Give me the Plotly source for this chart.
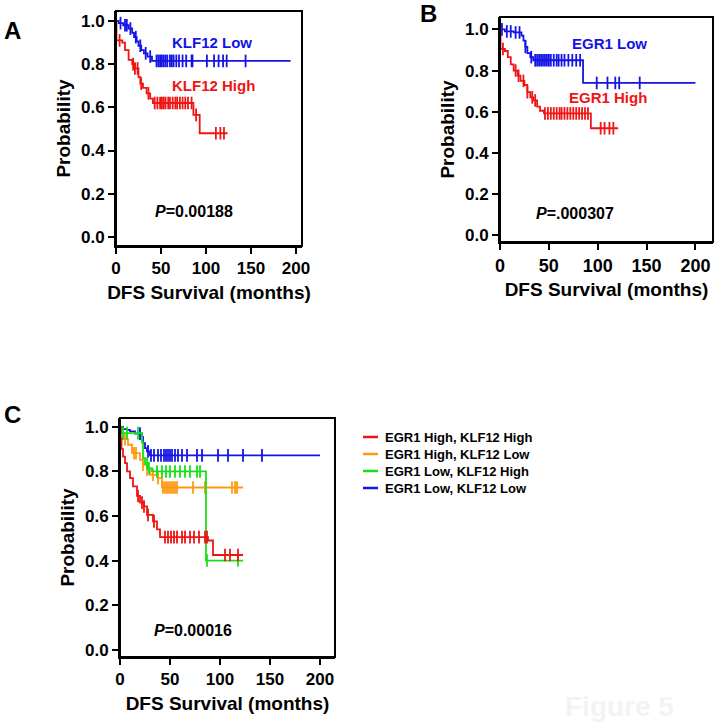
import plotly.graph_objects as go

# ---------------- data ----------------
# Panel A: KLF12
a_low_t = [3, 8, 14, 18, 20, 23, 25, 28, 31, 35, 40]
a_low_s = [0.99, 0.98, 0.965, 0.945, 0.925, 0.905, 0.885, 0.865, 0.85, 0.835, 0.815]
a_low_end = 194
a_low_cens = [5, 10, 12, 16, 22, 27, 33, 38, 45, 47, 49, 51, 53, 55, 57, 60, 62, 64, 67, 70, 74, 78, 84, 85, 101, 109, 114, 119, 123, 144]

a_high_t = [0.5, 7, 10, 14, 18, 21, 25, 27, 30, 34, 38, 41, 86, 93]
a_high_s = [0.91, 0.90, 0.865, 0.82, 0.80, 0.78, 0.74, 0.71, 0.69, 0.665, 0.64, 0.62, 0.565, 0.48]
a_high_end = 124
a_high_cens = [4, 19, 21, 24, 28, 36, 43, 46, 49, 51, 53, 55, 58, 60, 63, 66, 68, 71, 74, 77, 80, 84, 89, 111, 116, 120]

# Panel B: EGR1
b_low_t = [5, 14, 22, 24, 26, 28, 31, 34, 85]
b_low_s = [0.99, 0.985, 0.97, 0.945, 0.915, 0.885, 0.865, 0.85, 0.74]
b_low_end = 200
b_low_cens = [2, 7, 11, 16, 20, 26, 32, 36, 38, 40, 42, 44, 46, 48, 50, 52, 55, 58, 60, 63, 66, 70, 74, 78, 82, 99, 110, 118, 122, 143]

b_high_t = [0.5, 5, 8, 11, 14, 18, 21, 25, 28, 31, 34, 38, 41, 45, 93]
b_high_s = [0.905, 0.895, 0.865, 0.83, 0.80, 0.775, 0.75, 0.73, 0.695, 0.67, 0.655, 0.625, 0.605, 0.592, 0.52]
b_high_end = 121
b_high_cens = [3, 16, 19, 24, 28, 33, 36, 46, 49, 52, 55, 58, 61, 63, 66, 69, 72, 75, 78, 81, 84, 87, 90, 103, 107, 112, 116]

# Panel C: combinations
c_labels = ["EGR1 High, KLF12 High", "EGR1 High, KLF12 Low", "EGR1 Low, KLF12 High", "EGR1 Low, KLF12 Low"]

c_hh_t = [0.5, 1.5, 3, 5, 7, 10, 13, 17, 20, 24, 27, 33, 37, 40, 88, 93]
c_hh_s = [0.95, 0.90, 0.867, 0.837, 0.80, 0.77, 0.733, 0.69, 0.66, 0.643, 0.605, 0.576, 0.54, 0.505, 0.49, 0.425]
c_hh_end = 123
c_hh_cens = [18, 22, 24, 28, 34, 45, 48, 51, 54, 57, 62, 65, 70, 74, 79, 85, 87, 105, 110, 118]

c_hl_t = [0.5, 8, 12, 20, 23, 27, 30, 38, 42]
c_hl_s = [0.945, 0.92, 0.882, 0.852, 0.83, 0.807, 0.785, 0.77, 0.728]
c_hl_end = 123
c_hl_cens = [5, 14, 16, 23, 27, 33, 38, 43, 45, 47, 49, 51, 53, 55, 57, 73, 85, 112, 115, 117]

c_lh_t = [1, 22, 23, 25, 28, 32, 86]
c_lh_s = [0.972, 0.93, 0.86, 0.835, 0.815, 0.80, 0.40]
c_lh_end = 123
c_lh_cens = [3, 7, 18, 27, 29, 37, 42, 46, 50, 55, 60, 65, 70, 77, 80, 87, 118]

c_ll_t = [3, 7, 10, 15, 22, 23, 25, 27, 30]
c_ll_s = [0.99, 0.987, 0.98, 0.97, 0.955, 0.927, 0.905, 0.89, 0.872]
c_ll_end = 200
c_ll_cens = [20, 28, 31, 34, 38, 41, 44, 46, 48, 50, 52, 55, 58, 62, 67, 77, 82, 98, 108, 123, 142]

x_ticks = [0, 50, 100, 150, 200]
y_ticks = [0.0, 0.2, 0.4, 0.6, 0.8, 1.0]

# ---------------- styles ----------------
BLUE = "#1414e6"
RED = "#f01414"
GREEN = "#18e018"
ORANGE = "#ff9a10"
FONT = "Liberation Sans, Arial, sans-serif"
W, H = 716, 727


def step_xy(times, surv, end):
    xs, ys = [0], [1.0]
    for t, s in zip(times, surv):
        xs.append(t)
        ys.append(s)
    xs.append(end)
    ys.append(surv[-1])
    return xs, ys


def surv_at(times, surv, t):
    val = 1.0
    for tt, s in zip(times, surv):
        if tt <= t:
            val = s
    return val


fig = go.Figure()


def add_curve(times, surv, end, cens, color, xa, ya):
    xs, ys = step_xy(times, surv, end)
    fig.add_trace(go.Scatter(x=xs, y=ys, mode="lines", line=dict(color=color, width=1.8, shape="hv"),
                             xaxis=xa, yaxis=ya, showlegend=False, hoverinfo="skip"))
    fig.add_trace(go.Scatter(x=cens, y=[surv_at(times, surv, c) for c in cens], mode="markers",
                             marker=dict(symbol="line-ns-open", size=9, color=color,
                                         line=dict(color=color, width=1.8)),
                             xaxis=xa, yaxis=ya, showlegend=False, hoverinfo="skip"))


add_curve(a_low_t, a_low_s, a_low_end, a_low_cens, BLUE, "x", "y")
add_curve(a_high_t, a_high_s, a_high_end, a_high_cens, RED, "x", "y")
add_curve(b_low_t, b_low_s, b_low_end, b_low_cens, BLUE, "x2", "y2")
add_curve(b_high_t, b_high_s, b_high_end, b_high_cens, RED, "x2", "y2")
add_curve(c_ll_t, c_ll_s, c_ll_end, c_ll_cens, BLUE, "x3", "y3")
add_curve(c_hl_t, c_hl_s, c_hl_end, c_hl_cens, ORANGE, "x3", "y3")
add_curve(c_lh_t, c_lh_s, c_lh_end, c_lh_cens, GREEN, "x3", "y3")
add_curve(c_hh_t, c_hh_s, c_hh_end, c_hh_cens, RED, "x3", "y3")


def px_dom(a, b, total):
    return [a / total, b / total]


def ydom(top, bottom):
    return [1 - bottom / H, 1 - top / H]


def xaxis(dom, anchor, rmax, tick_size):
    return dict(domain=dom, anchor=anchor, range=[0, rmax], tickvals=x_ticks,
                showline=True, mirror=False, linecolor="black", linewidth=2,
                ticks="outside", ticklen=6, tickwidth=2, tickcolor="black",
                showgrid=False, zeroline=False, automargin=False,
                tickfont=dict(family=FONT, size=tick_size, color="black", weight="bold"),
                title=dict(text="DFS Survival (months)", standoff=8,
                           font=dict(family=FONT, size=19, color="black", weight="bold")))


def yaxis(dom, anchor, rng):
    return dict(domain=dom, anchor=anchor, range=rng, tickvals=y_ticks, tickformat=".1f",
                showline=True, mirror=False, linecolor="black", linewidth=2,
                ticks="outside", ticklen=6, tickwidth=2, tickcolor="black",
                showgrid=False, zeroline=False, automargin=False,
                tickfont=dict(family=FONT, size=17, color="black", weight="bold"),
                title=dict(text="Probability", standoff=5,
                           font=dict(family=FONT, size=19, color="black", weight="bold")))


fig.update_layout(
    width=W, height=H, autosize=False,
    margin=dict(l=0, r=0, t=0, b=0, autoexpand=False),
    paper_bgcolor="white", plot_bgcolor="white",
    xaxis=xaxis(px_dom(116, 302, W), "y", 206.7, 17),
    yaxis=yaxis(ydom(11, 246), "x", [-0.042, 1.046]),
    xaxis2=xaxis(px_dom(500, 713, W), "y2", 218, 18),
    yaxis2=yaxis(ydom(17, 242), "x2", [-0.032, 1.06]),
    xaxis3=xaxis(px_dom(120, 335, W), "y3", 215, 17),
    yaxis3=yaxis(ydom(418, 657), "x3", [-0.033, 1.04]),
    showlegend=False,
)

# frame around each panel
shapes = []
for xr, yr in [("x", "y"), ("x2", "y2"), ("x3", "y3")]:
    shapes.append(dict(type="rect", xref=xr + " domain", yref=yr + " domain", x0=0, x1=1, y0=0, y1=1,
                       line=dict(color="black", width=2), fillcolor="rgba(0,0,0,0)", layer="above"))

ann = []


def txt(text, x, y, xref, yref, size, color, xanchor="center"):
    ann.append(dict(text=text, x=x, y=y, xref=xref, yref=yref, showarrow=False,
                    font=dict(family=FONT, size=size, color=color, weight="bold"),
                    xanchor=xanchor, yanchor="middle"))


# legend of panel C (line key + label)
leg_colors = [RED, ORANGE, GREEN, BLUE]
leg_rows = [437, 454, 471, 488]
for lab, col, ry in zip(c_labels, leg_colors, leg_rows):
    shapes.append(dict(type="line", xref="paper", yref="paper", x0=363 / W, x1=378 / W,
                       y0=1 - ry / H, y1=1 - ry / H, line=dict(color=col, width=2.5)))
    txt(lab, 383 / W, 1 - ry / H, "paper", "paper", 13, "black", xanchor="left")

txt("A", 12 / W, 1 - 30 / H, "paper", "paper", 24, "black")
txt("B", 428 / W, 1 - 13 / H, "paper", "paper", 24, "black")
txt("C", 12 / W, 1 - 414 / H, "paper", "paper", 24, "black")

txt("KLF12 Low", 107, 0.90, "x", "y", 15, BLUE)
txt("KLF12 High", 108, 0.70, "x", "y", 15, RED)
txt("<i>P</i>=0.00188", 87, 0.116, "x", "y", 16, "black")

txt("EGR1 Low", 112, 0.93, "x2", "y2", 15, BLUE)
txt("EGR1 High", 111, 0.67, "x2", "y2", 15, RED)
txt("<i>P</i>=.000307", 77, 0.107, "x2", "y2", 16, "black")

txt("<i>P</i>=0.00016", 73, 0.085, "x3", "y3", 16, "black")

txt("Figure 5", 619 / W, 1 - 706 / H, "paper", "paper", 28, "#f3f3f3")

fig.update_layout(annotations=ann, shapes=shapes)
fig.write_html("out.html", config={"displayModeBar": False},
               post_script="document.body.style.margin='0px';")
